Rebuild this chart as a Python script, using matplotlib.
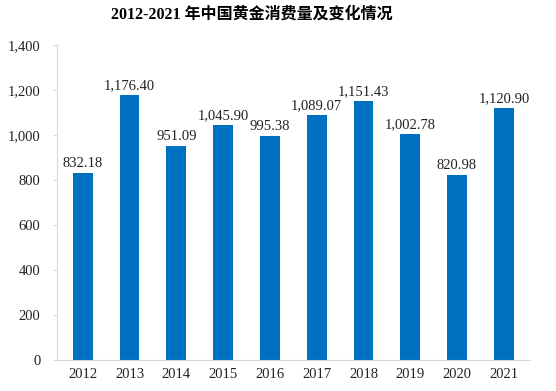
import matplotlib.pyplot as plt
import numpy as np
from matplotlib.ticker import FuncFormatter

years = ['2012', '2013', '2014', '2015', '2016', '2017', '2018', '2019', '2020', '2021']
consumption = [832.18, 1176.40, 951.09, 1045.90, 995.38, 1089.07, 1151.43, 1002.78, 820.98, 1120.90]

plt.rcParams['font.family'] = ['Liberation Serif', 'Noto Sans CJK SC']

fig = plt.figure(figsize=(5.56, 3.91), dpi=100)
ax = fig.add_axes([0.1025, 0.0793, 0.85, 0.806])

x = np.arange(len(years))
ax.bar(x, consumption, width=0.42, color='#0070C0')

# value labels above each bar
for xi, v in zip(x, consumption):
    ax.text(xi, v + 12, f'{v:,.2f}', ha='center', va='bottom', fontsize=10.5, color='#222222')

ax.set_xlim(-0.55, len(years) - 0.45)
ax.set_ylim(0, 1400)
ax.set_yticks(np.arange(0, 1401, 200))
ax.yaxis.set_major_formatter(FuncFormatter(lambda v, p: f'{int(v):,}'))
ax.set_xticks(x)
ax.set_xticklabels(years)
ax.tick_params(axis='both', labelsize=10.5, colors='#222222')
ax.tick_params(axis='y', length=3, color='#d9d9d9', pad=9)
ax.tick_params(axis='x', length=0, pad=6)

for s in ['top', 'right']:
    ax.spines[s].set_visible(False)
for s in ['left', 'bottom']:
    ax.spines[s].set_color('#d9d9d9')

fig.text(0.453, 0.962, '2012-2021 年中国黄金消费量及变化情况', fontsize=11.5, fontweight='bold',
         ha='center', va='center')

fig.savefig('out.png', dpi=100)
